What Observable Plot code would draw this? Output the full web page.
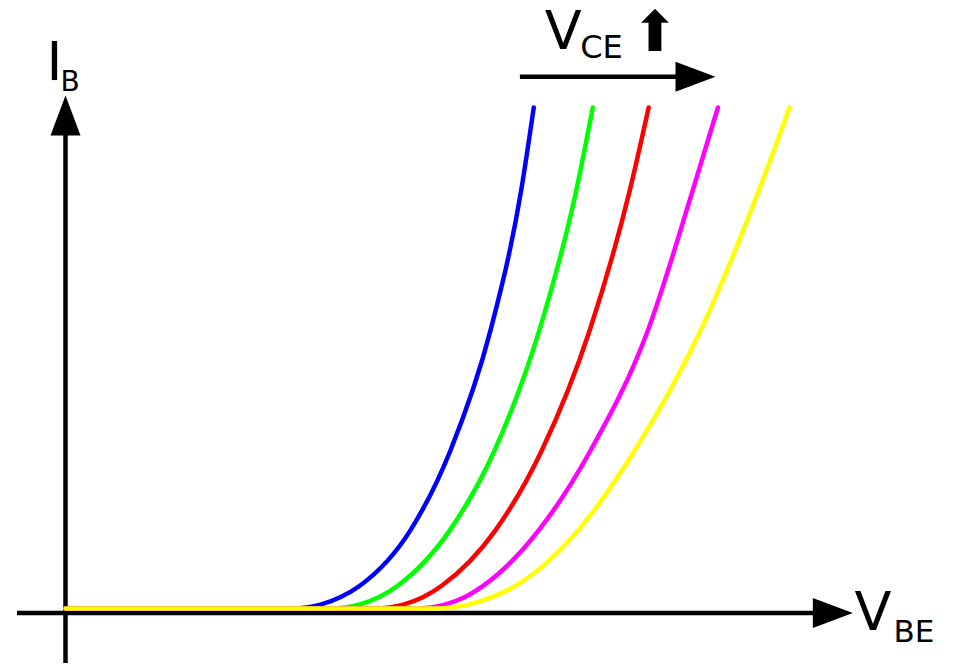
<!DOCTYPE html>
<html>
<head>
<meta charset="utf-8">
<script src="https://cdn.jsdelivr.net/npm/d3@7"></script>
<script src="https://cdn.jsdelivr.net/npm/@observablehq/plot@0.6"></script>
<style>
  html, body { margin: 0; padding: 0; background: #fff; }
  #chart svg { display: block; overflow: visible; }
</style>
</head>
<body>
<div id="chart"></div>
<script>
// Series (arbitrary units: V_BE 0..1 along the axis, I_B 0..1 to the top of the curves)
const seriesNames = ["VCE1", "VCE2", "VCE3", "VCE4", "VCE5"];
const seriesColors = ["#0000ff", "#00ff00", "#ff0000", "#ff00ff", "#ffff00"];
const ibValues   = [0.009, 0.009, 0.017, 0.031, 0.054, 0.163, 0.321, 0.559, 0.836, 1.0];
const vbeBlue    = [0, 0.288, 0.325, 0.349, 0.374, 0.438, 0.489, 0.540, 0.579, 0.595];
const vbeGreen   = [0, 0.337, 0.374, 0.398, 0.422, 0.488, 0.545, 0.602, 0.649, 0.670];
const vbeRed     = [0, 0.393, 0.430, 0.454, 0.478, 0.546, 0.605, 0.666, 0.717, 0.741];
const vbeMagenta = [0, 0.446, 0.483, 0.507, 0.531, 0.601, 0.667, 0.740, 0.797, 0.829];
const vbeYellow  = [0, 0.470, 0.513, 0.541, 0.572, 0.651, 0.723, 0.807, 0.881, 0.920];
const vbeSeries = [vbeBlue, vbeGreen, vbeRed, vbeMagenta, vbeYellow];

// Labels
const xLabel = ["V", "BE"];
const yLabel = ["I", "B"];
const vceLabel = ["V", "CE", "⬆"];

const rows = [];
seriesNames.forEach((name, s) => {
  vbeSeries[s].forEach((v, k) => rows.push({series: name, vbe: v, ib: ibValues[k]}));
});

const arrowHead = {
  draw(ctx) {
    ctx.moveTo(0, -20);
    ctx.lineTo(15, 20);
    ctx.lineTo(-15, 20);
    ctx.closePath();
  }
};

const font = "DejaVu Sans";

const chart = Plot.plot({
  width: 972,
  height: 670,
  margin: 0,
  style: {background: "#fff", fontFamily: font},
  x: {domain: [0, 1], range: [65, 852], axis: null},
  y: {domain: [0, 1], range: [612.5, 107], axis: null},
  color: {domain: seriesNames, range: seriesColors},
  marks: [
    // axes
    Plot.ruleY([0], {x1: -0.061, x2: 0.96, stroke: "black", strokeWidth: 4.5}),
    Plot.ruleX([0], {y1: -0.1, y2: 0.97, stroke: "black", strokeWidth: 4.5}),
    Plot.dot([{x: 0.975, y: 0}], {x: "x", y: "y", symbol: arrowHead, fill: "black", stroke: "none", rotate: 90}),
    Plot.dot([{x: 0, y: 0.984}], {x: "x", y: "y", symbol: arrowHead, fill: "black", stroke: "none", rotate: 0}),
    // V_CE arrow
    Plot.ruleY([1.061], {x1: 0.578, x2: 0.79, stroke: "black", strokeWidth: 4.5}),
    Plot.dot([{x: 0.8005, y: 1.061}], {x: "x", y: "y", symbol: arrowHead, fill: "black", stroke: "none", rotate: 90}),
    // curves
    Plot.line(rows, {x: "vbe", y: "ib", z: "series", stroke: "series", strokeWidth: 4.5, curve: "monotone-x"}),
    // labels
    Plot.text([xLabel[0]], {x: 1.0, y: 0, text: d => d, textAnchor: "start", lineAnchor: "middle", fontSize: 54, fill: "black", dx: 2}),
    Plot.text([xLabel[1]], {x: 1.052, y: -0.0376, text: d => d, textAnchor: "start", lineAnchor: "middle", fontSize: 31, fill: "black"}),
    Plot.text([yLabel[0]], {x: -0.024, y: 1.088, text: d => d, textAnchor: "start", lineAnchor: "middle", fontSize: 54, fill: "black"}),
    Plot.text([yLabel[1]], {x: -0.0064, y: 1.050, text: d => d, textAnchor: "start", lineAnchor: "middle", fontSize: 28, fill: "black"}),
    Plot.text([vceLabel[0]], {x: 0.609, y: 1.149, text: d => d, textAnchor: "start", lineAnchor: "middle", fontSize: 54, fill: "black"}),
    Plot.text([vceLabel[1]], {x: 0.654, y: 1.118, text: d => d, textAnchor: "start", lineAnchor: "middle", fontSize: 32, fill: "black"}),
    Plot.text([vceLabel[2]], {x: 0.749, y: 1.148, text: d => d, textAnchor: "middle", lineAnchor: "middle", fontSize: 56, fill: "black"})
  ]
});

document.getElementById("chart").appendChild(chart);
</script>
</body>
</html>
